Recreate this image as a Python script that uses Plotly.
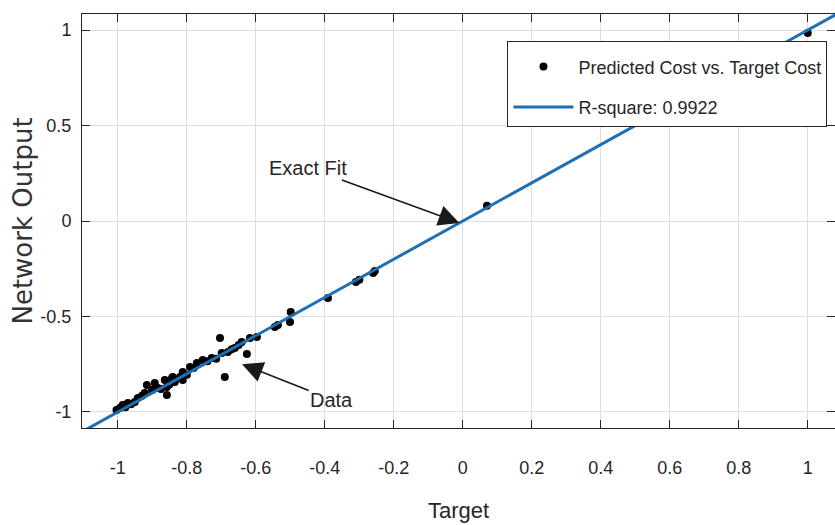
import plotly.graph_objects as go

# Data (Target vs Network Output)
target = [-1.004, -0.994, -0.986, -0.971, -0.951, -0.942, -0.922, -0.916, -0.901, -0.893,
          -0.884, -0.864, -0.858, -0.858, -0.843, -0.835, -0.820, -0.841, -0.812, -0.812,
          -0.791, -0.771, -0.754, -0.728, -0.704, -0.699, -0.690, -0.681, -0.661, -0.641,
          -0.626, -0.617, -0.597, -0.545, -0.536, -0.499, -0.501, -0.391, -0.310, -0.300,
          -0.260, -0.255, 0.070, 1.000, -0.978, -0.962, -0.930, -0.875, -0.850, -0.800,
          -0.780, -0.740, -0.715, -0.670, -0.650]
output = [-0.990, -0.979, -0.963, -0.953, -0.948, -0.927, -0.901, -0.859, -0.885, -0.848,
          -0.874, -0.832, -0.911, -0.869, -0.822, -0.843, -0.817, -0.817, -0.791, -0.832,
          -0.764, -0.743, -0.728, -0.717, -0.613, -0.691, -0.817, -0.686, -0.665, -0.634,
          -0.696, -0.613, -0.607, -0.555, -0.545, -0.476, -0.529, -0.403, -0.319, -0.308,
          -0.272, -0.262, 0.080, 0.984, -0.975, -0.960, -0.915, -0.880, -0.855, -0.805,
          -0.770, -0.735, -0.722, -0.672, -0.650]

fit_x = [-1.2, 1.2]
fit_y = [-1.2, 1.2]

x_ticks = [-1, -0.8, -0.6, -0.4, -0.2, 0, 0.2, 0.4, 0.6, 0.8, 1]
y_ticks = [-1, -0.5, 0, 0.5, 1]
x_tick_text = ["-1", "-0.8", "-0.6", "-0.4", "-0.2", "0", "0.2", "0.4", "0.6", "0.8", "1"]
y_tick_text = ["-1", "-0.5", "0", "0.5", "1"]

FONT = "Liberation Sans Narrow, Arial Narrow, Liberation Sans, Arial, sans-serif"
TXT = "#262626"

fig = go.Figure()
fig.add_trace(go.Scatter(
    x=target, y=output, mode="markers",
    marker=dict(color="black", size=8),
    name="Predicted Cost vs. Target Cost", legendgroup="a"))
fig.add_trace(go.Scatter(
    x=fit_x, y=fit_y, mode="lines",
    line=dict(color="#1f6fb5", width=3),
    name="R-square: 0.9922", legendgroup="b"))

fig.add_annotation(x=-0.01, y=-0.01, ax=-0.45, ay=0.28, xref="x", yref="y",
                   axref="x", ayref="y", text="Exact Fit", showarrow=True,
                   arrowhead=2, arrowsize=2.6, arrowwidth=1.6, arrowcolor="#1a1a1a",
                   font=dict(family=FONT, size=20, color=TXT))
fig.add_annotation(x=-0.64, y=-0.75, ax=-0.38, ay=-0.935, xref="x", yref="y",
                   axref="x", ayref="y", text="Data", showarrow=True,
                   arrowhead=2, arrowsize=2.6, arrowwidth=1.6, arrowcolor="#1a1a1a",
                   font=dict(family=FONT, size=20, color=TXT))

fig.update_layout(
    width=835, height=525,
    margin=dict(l=82, r=0, t=14, b=97),
    paper_bgcolor="white", plot_bgcolor="white",
    font=dict(family=FONT, size=18, color=TXT),
    showlegend=True,
    legend=dict(x=0.99, y=0.935, xanchor="right", yanchor="top",
                bgcolor="white", bordercolor="#262626", borderwidth=1,
                font=dict(family=FONT, size=18, color=TXT),
                title=dict(text=" ", font=dict(size=5)),
                itemwidth=60, tracegroupgap=14, traceorder="grouped"),
    xaxis=dict(range=[-1.104, 1.079], tickvals=x_ticks, ticktext=x_tick_text,
               showgrid=True, gridcolor="#dddddd", gridwidth=1, zeroline=False,
               showline=True, linecolor="#262626", linewidth=1, mirror="ticks",
               ticks="inside", ticklen=8, tickcolor="#262626",
               ticklabelstandoff=23,
               title=dict(text="Target", font=dict(family=FONT, size=22, color=TXT),
                          standoff=26)),
    yaxis=dict(range=[-1.084, 1.084], tickvals=y_ticks, ticktext=y_tick_text,
               showgrid=True, gridcolor="#dddddd", gridwidth=1, zeroline=False,
               showline=True, linecolor="#262626", linewidth=1, mirror="ticks",
               ticks="inside", ticklen=8, tickcolor="#262626",
               ticklabelstandoff=6,
               title=dict(text="Network Output",
                          font=dict(family="DejaVu Sans, Verdana, sans-serif", size=26, color="#333333"),
                          standoff=0)),
)

fig.write_html("out.html")
